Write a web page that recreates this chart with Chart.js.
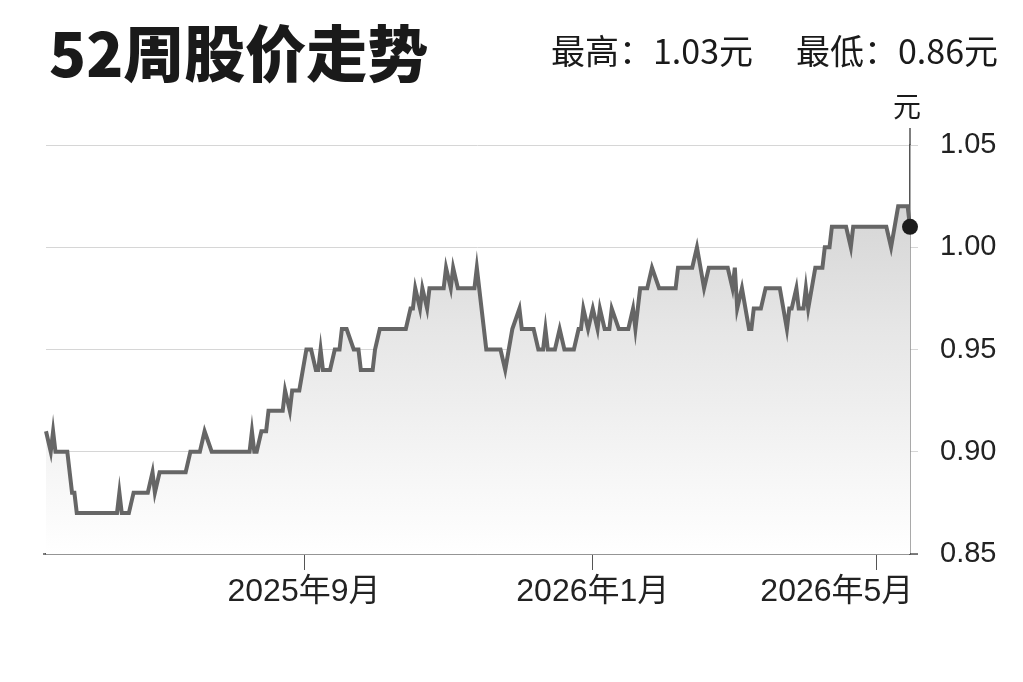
<!DOCTYPE html>
<html><head><meta charset="utf-8">
<script src="https://cdn.jsdelivr.net/npm/chart.js@4/dist/chart.umd.min.js"></script>
<style>
html,body{margin:0;padding:0;background:#fff;width:1023px;height:682px;overflow:hidden}
#wrap{position:relative;width:1023px;height:682px}
#c{position:absolute;left:0;top:0}
.t{position:absolute;font-family:"Noto Sans CJK SC","Liberation Sans",sans-serif;color:#1a1a1a;white-space:nowrap;line-height:1}
</style></head><body>
<div id="wrap">
<canvas id="c" width="1023" height="682"></canvas>
<div class="t" style="left:49px;top:20px;font-size:61px;font-weight:900">52周股价走势</div>
<div class="t" style="left:551px;top:33px;font-size:34px">最高：1.03元</div>
<div class="t" style="right:25px;top:33px;font-size:34px">最低：0.86元</div>
<div class="t" style="left:893px;top:91px;font-size:28px">元</div>
</div>
<script>
// Days since 2025-05-15
const days = [0,2,3,4,9,11,12,13,30,31,32,35,37,43,45,46,48,59,61,65,67,70,86,87,88,89,91,93,94,100,101,103,104,107,110,112,114,115,116,117,120,122,124,125,127,130,132,133,138,139,141,152,154,155,156,158,159,161,162,168,169,171,172,174,181,182,186,192,194,197,200,201,206,208,210,211,212,215,217,219,223,225,226,227,229,231,233,234,236,238,239,242,246,248,249,251,254,256,259,266,267,273,275,278,280,288,290,291,292,294,297,298,299,302,304,310,313,314,315,317,318,320,321,322,325,328,329,331,332,338,340,341,355,357,360,364,365];
const prices = [0.91,0.90,0.91,0.90,0.90,0.88,0.88,0.87,0.87,0.88,0.87,0.87,0.88,0.88,0.89,0.88,0.89,0.89,0.90,0.90,0.91,0.90,0.90,0.91,0.90,0.90,0.91,0.91,0.92,0.92,0.93,0.92,0.93,0.93,0.95,0.95,0.94,0.94,0.95,0.94,0.94,0.95,0.95,0.96,0.96,0.95,0.95,0.94,0.94,0.95,0.96,0.96,0.97,0.97,0.98,0.97,0.98,0.97,0.98,0.98,0.99,0.98,0.99,0.98,0.98,0.99,0.95,0.95,0.94,0.96,0.97,0.96,0.96,0.95,0.95,0.96,0.95,0.95,0.96,0.95,0.95,0.96,0.96,0.97,0.96,0.97,0.96,0.97,0.96,0.96,0.97,0.96,0.96,0.97,0.96,0.98,0.98,0.99,0.98,0.98,0.99,0.99,1.00,0.98,0.99,0.99,0.98,0.99,0.97,0.98,0.96,0.96,0.97,0.97,0.98,0.98,0.96,0.97,0.97,0.98,0.97,0.97,0.98,0.97,0.99,0.99,1.00,1.00,1.01,1.01,1.00,1.01,1.01,1.00,1.02,1.02,1.01];
const tickDays = [109,231,351];
const tickLabels = ['2025年9月','2026年1月','2026年5月'];
const yTicks = [0.85,0.90,0.95,1.00,1.05];

const pts = days.map((d,i)=>({x:d,y:prices[i]}));
const radii = prices.map((_,i)=> i===prices.length-1 ? 8 : 0);

const extendAxes = {
  id:'extendAxes',
  afterDraw(chart){
    const {ctx, chartArea:a} = chart;
    ctx.save();
    ctx.strokeStyle='#555';
    ctx.lineWidth=1.5;
    ctx.beginPath();
    ctx.moveTo(a.right, a.top); ctx.lineTo(a.right, 128);
    ctx.moveTo(a.left-3, a.bottom); ctx.lineTo(a.left, a.bottom);
    ctx.moveTo(a.right, a.bottom); ctx.lineTo(a.right+8, a.bottom);
    ctx.stroke();
    ctx.restore();
  }
};

const fam = '"Liberation Sans","Noto Sans CJK SC",sans-serif';

new Chart(document.getElementById('c'), {
  type:'line',
  data:{datasets:[{
    data: pts,
    borderColor:'#666666',
    borderWidth:4,
    tension:0,
    pointRadius: radii,
    pointHoverRadius: radii,
    pointBackgroundColor:'#1c1c1c',
    pointBorderWidth:0,
    clip:false,
    fill:'start',
    backgroundColor(ctx){
      const a = ctx.chart.chartArea;
      if(!a) return 'rgba(0,0,0,0)';
      const g = ctx.chart.ctx.createLinearGradient(0,a.top,0,a.bottom);
      g.addColorStop(0,'#cdcdcd');
      g.addColorStop(0.45,'#e6e6e6');
      g.addColorStop(1,'#ffffff');
      return g;
    }
  }]},
  options:{
    responsive:false,
    animation:false,
    layout:{padding:{left:46,top:145,right:0,bottom:0}},
    plugins:{legend:{display:false},tooltip:{enabled:false}},
    scales:{
      x:{
        type:'linear', position:'bottom', min:0, max:365,
        afterFit(s){ s.height = 128; },
        afterBuildTicks(s){ s.ticks = tickDays.map(v=>({value:v})); },
        ticks:{
          callback:(v,i,arr)=>{
            const lbl = tickLabels[tickDays.indexOf(v)];
            // last label is nudged left to stay inside the frame
            return i === arr.length-1 ? lbl + '         ' : lbl;
          },
          font:{family:fam,size:32}, color:'#222', padding:3, maxRotation:0, autoSkip:false
        },
        grid:{ drawOnChartArea:false, drawTicks:true, tickLength:16, tickColor:'#555', tickWidth:1 },
        border:{ color:'#555', width:1.5 }
      },
      y:{
        position:'right', min:0.85, max:1.05,
        afterFit(s){ s.width = 113; },
        afterBuildTicks(s){ s.ticks = yTicks.map(v=>({value:v})); },
        ticks:{ callback:(v)=>v.toFixed(2), font:{family:fam,size:29}, color:'#222', padding:22 },
        grid:{ color:'#d6d6d6', lineWidth:1, drawTicks:true, tickLength:8 },
        border:{ color:'#555', width:1.5 }
      }
    }
  },
  plugins:[extendAxes]
});
</script>
</body></html>
